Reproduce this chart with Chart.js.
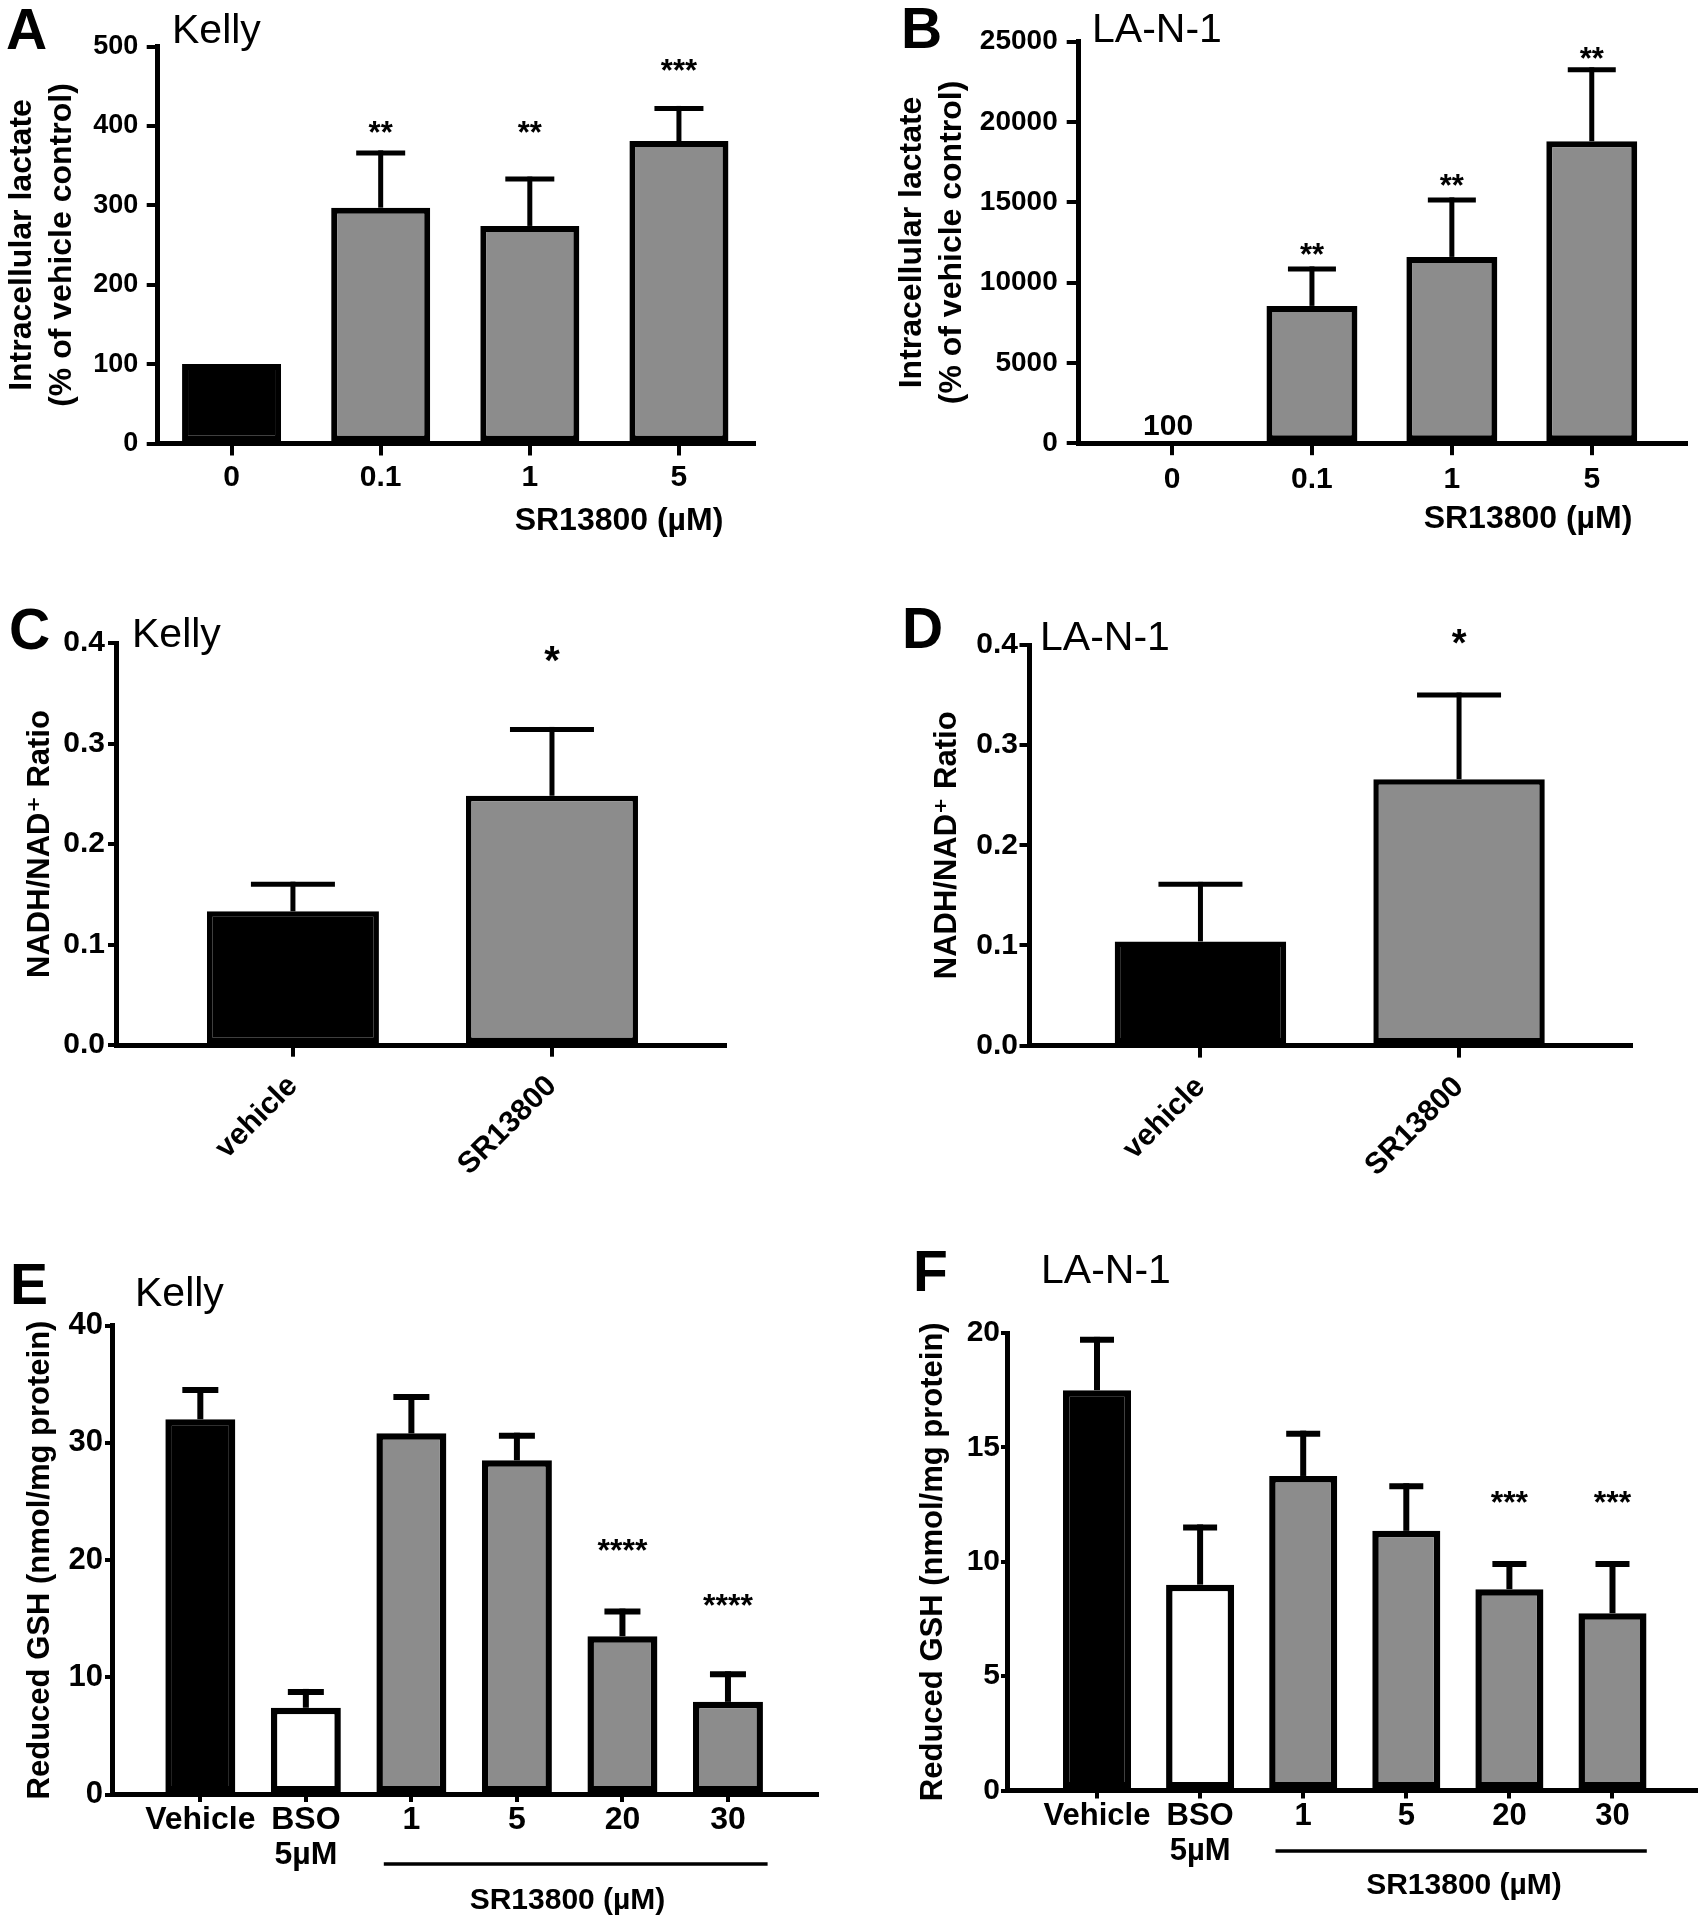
<!DOCTYPE html>
<html><head><meta charset="utf-8">
<script src="https://cdn.jsdelivr.net/npm/chart.js@4.4.1/dist/chart.umd.min.js"></script>
<style>
html,body{margin:0;padding:0;background:#fff;}
body{width:1704px;height:1920px;position:relative;overflow:hidden;}
canvas{position:absolute;display:block;}
</style></head><body>
<canvas id="cA"></canvas><canvas id="cB"></canvas>
<canvas id="cC"></canvas><canvas id="cD"></canvas>
<canvas id="cE"></canvas><canvas id="cF"></canvas>
<script>
// ---------------- DATA ----------------
const catsLactate = ['0', '0.1', '1', '5'];
const lactateKelly = [100, 297, 274, 381];
const lactateKellyErr = [0, 69, 59, 41];
const lactateKellySig = ['', '**', '**', '***'];
const lactateLAN1 = [100, 8550, 11600, 18800];
const lactateLAN1Err = [0, 2300, 3550, 4450];
const lactateLAN1Sig = ['', '**', '**', '**'];

const catsNad = ['vehicle', 'SR13800'];
const nadKelly = [0.133, 0.248];
const nadKellyErr = [0.027, 0.066];
const nadKellySig = ['', '*'];
const nadLAN1 = [0.104, 0.266];
const nadLAN1Err = [0.057, 0.084];
const nadLAN1Sig = ['', '*'];

const catsGsh = ['Vehicle', ['BSO', '5\u00B5M'], '1', '5', '20', '30'];
const gshKelly = [32.0, 7.4, 30.8, 28.5, 13.5, 7.9];
const gshKellyErr = [2.5, 1.35, 3.1, 2.1, 2.1, 2.35];
const gshKellySig = ['', '', '', '', '****', '****'];
const gshLAN1 = [17.5, 9.0, 13.75, 11.35, 8.8, 7.75];
const gshLAN1Err = [2.2, 2.5, 1.85, 1.95, 1.1, 2.15];
const gshLAN1Sig = ['', '', '', '', '***', '***'];

const yTicksLactKelly = [0, 100, 200, 300, 400, 500];
const yTicksLactLAN1 = [0, 5000, 10000, 15000, 20000, 25000];
const yTicksNad = [0, 0.1, 0.2, 0.3, 0.4];
const yTicksGshKelly = [0, 10, 20, 30, 40];
const yTicksGshLAN1 = [0, 5, 10, 15, 20];

// ---------------- STYLE / LAYOUT ----------------
const FAM = "'Liberation Sans', Arial, Helvetica, 'DejaVu Sans', sans-serif";
const GRAY = '#8c8c8c';
const fmtInt = v => String(v);
const fmt1 = v => v.toFixed(1);
const SR = 'SR13800 (\u00B5M)';
const LET = 'bold 57px';
const NAME = '41px';

const panels = [
  { id: 'cA', L: 0, T: 0, W: 852, H: 560, area: [157, 46.5, 753.5, 443.5],
    cats: catsLactate, vals: lactateKelly, errs: lactateKellyErr, sig: lactateKellySig, sigLevel: [null, 400, 400, 478],
    yMax: 500, yTicks: yTicksLactKelly, yFmt: fmtInt, xMin: -0.5, xMax: 3.5,
    fills: ['#000', GRAY, GRAY, GRAY], bw: 6, barPct: 0.664,
    yTick: { size: 27, tl: 10.3, pad: 8.4 }, xTick: { size: 30, tl: 12, pad: 4, rot: 0, lh: 1.2 },
    yTitle: { text: ['Intracellular lactate', '(% of vehicle control)'], size: 32, lh: '40px', pad: 2 },
    err: { lw: 5, cap: 49, ct: 5 }, starSize: 31,
    texts: [ { s: 'A', x: 6, y: 49, f: LET }, { s: 'Kelly', x: 172, y: 43, f: NAME },
             { s: SR, x: 619, y: 530, f: 'bold 32px', a: 'center' } ],
    lines: [] },
  { id: 'cB', L: 852, T: 0, W: 852, H: 560, area: [1078.3, 41.7, 1685.5, 443.2],
    cats: catsLactate, vals: lactateLAN1, errs: lactateLAN1Err, sig: lactateLAN1Sig, sigLevel: [null, 12200, 16450, 24400],
    yMax: 25000, yTicks: yTicksLactLAN1, yFmt: fmtInt, xMin: -0.67, xMax: 3.67,
    fills: ['#000', GRAY, GRAY, GRAY], bw: 6, barPct: 0.65,
    yTick: { size: 28, tl: 11.6, pad: 9 }, xTick: { size: 30, tl: 12, pad: 7, rot: 0, lh: 1.2 },
    yTitle: { text: ['Intracellular lactate', '(% of vehicle control)'], size: 32, lh: '40px', pad: 40.5 },
    err: { lw: 5, cap: 48, ct: 5 }, starSize: 31,
    valueLabel: { i: 0, dy: -7, f: 'bold 30px' },
    texts: [ { s: 'B', x: 901, y: 48, f: LET }, { s: 'LA-N-1', x: 1092, y: 42, f: NAME },
             { s: SR, x: 1528, y: 528, f: 'bold 32px', a: 'center' } ],
    lines: [] },
  { id: 'cC', L: 0, T: 560, W: 852, H: 680, area: [116, 643, 724.5, 1045],
    cats: catsNad, vals: nadKelly, errs: nadKellyErr, sig: nadKellySig, sigLevel: [null, 0.391],
    yMax: 0.4, yTicks: yTicksNad, yFmt: fmt1, xMin: -0.683, xMax: 1.666,
    fills: ['#000', GRAY], bw: 5.5, barPct: 0.664,
    yTick: { size: 30, tl: 8, pad: 3 }, xTick: { size: 30, tl: 11.7, pad: 12, rot: 45, lh: 1.2 },
    yTitle: { text: 'NADH/NAD\u207A Ratio', size: 31, lh: 1.2, pad: 21.5 },
    err: { lw: 5, cap: 84, ct: 5 }, starSize: 40,
    texts: [ { s: 'C', x: 9, y: 649, f: LET }, { s: 'Kelly', x: 132, y: 647, f: NAME } ],
    lines: [] },
  { id: 'cD', L: 852, T: 560, W: 852, H: 680, area: [1029, 645, 1630.5, 1045.6],
    cats: catsNad, vals: nadLAN1, errs: nadLAN1Err, sig: nadLAN1Sig, sigLevel: [null, 0.4107],
    yMax: 0.4, yTicks: yTicksNad, yFmt: fmt1, xMin: -0.663, xMax: 1.663,
    fills: ['#000', GRAY], bw: 5.5, barPct: 0.663,
    yTick: { size: 30, tl: 9.5, pad: 1.5 }, xTick: { size: 30, tl: 12, pad: 12, rot: 45, lh: 1.2 },
    yTitle: { text: 'NADH/NAD\u207A Ratio', size: 31, lh: 1.2, pad: 76.5 },
    err: { lw: 5, cap: 84, ct: 5 }, starSize: 38,
    texts: [ { s: 'D', x: 902, y: 648, f: LET }, { s: 'LA-N-1', x: 1040, y: 650, f: NAME } ],
    lines: [] },
  { id: 'cE', L: 0, T: 1240, W: 852, H: 680, area: [112, 1325.5, 816.5, 1794.5],
    cats: catsGsh, vals: gshKelly, errs: gshKellyErr, sig: gshKellySig, sigLevel: [null, null, null, null, 21.45, 16.76],
    yMax: 40, yTicks: yTicksGshKelly, yFmt: fmtInt, xMin: -0.837, xMax: 5.839,
    fills: ['#000', '#fff', GRAY, GRAY, GRAY, GRAY], bw: 6.5, barPct: 0.663,
    yTick: { size: 31, tl: 7, pad: 2 }, xTick: { size: 32, tl: 7.5, pad: 1, rot: 0, lh: '35px' },
    yTitle: { text: 'Reduced GSH (nmol/mg protein)', size: 31, lh: 1.2, pad: 22 },
    err: { lw: 6, cap: 36, ct: 6 }, starSize: 32,
    texts: [ { s: 'E', x: 10, y: 1304, f: LET }, { s: 'Kelly', x: 135, y: 1306, f: NAME },
             { s: SR, x: 567.5, y: 1909, f: 'bold 30px', a: 'center' } ],
    lines: [ [383.8, 1864, 767.6, 1864, 3.5] ] },
  { id: 'cF', L: 852, T: 1240, W: 852, H: 680, area: [1007, 1333, 1696, 1790.5],
    cats: catsGsh, vals: gshLAN1, errs: gshLAN1Err, sig: gshLAN1Sig, sigLevel: [null, null, null, null, 12.92, 12.92],
    yMax: 20, yTicks: yTicksGshLAN1, yFmt: fmtInt, xMin: -0.873, xMax: 5.81,
    fills: ['#000', '#fff', GRAY, GRAY, GRAY, GRAY], bw: 6.5, barPct: 0.66,
    yTick: { size: 30, tl: 6, pad: 1 }, xTick: { size: 31, tl: 8, pad: 0, rot: 0, lh: '35px' },
    yTitle: { text: 'Reduced GSH (nmol/mg protein)', size: 31, lh: 1.2, pad: 63 },
    err: { lw: 6, cap: 34, ct: 6 }, starSize: 32,
    texts: [ { s: 'F', x: 913, y: 1291, f: LET }, { s: 'LA-N-1', x: 1041, y: 1283, f: NAME },
             { s: SR, x: 1464, y: 1894, f: 'bold 30px', a: 'center' } ],
    lines: [ [1275.5, 1851, 1646.8, 1851, 3.5] ] }
];

function fnt(size, weight, lh) { return { family: FAM, size: size, weight: weight, lineHeight: lh || 1.2 }; }

function makeOverlay(p) {
  return {
    id: 'overlay_' + p.id,
    afterDatasetsDraw(chart) {
      const ctx = chart.ctx, xs = chart.scales.x, ys = chart.scales.y;
      ctx.save();
      ctx.strokeStyle = '#000'; ctx.fillStyle = '#000'; ctx.lineCap = 'butt';
      // error bars (upper, SEM)
      p.vals.forEach((v, i) => {
        const e = p.errs[i];
        if (!e) return;
        const x = xs.getPixelForValue(i);
        const y0 = ys.getPixelForValue(v);
        const y1 = ys.getPixelForValue(v + e);
        ctx.lineWidth = p.err.lw;
        ctx.beginPath(); ctx.moveTo(x, y0); ctx.lineTo(x, y1 - p.err.ct / 2); ctx.stroke();
        ctx.lineWidth = p.err.ct;
        ctx.beginPath(); ctx.moveTo(x - p.err.cap / 2, y1); ctx.lineTo(x + p.err.cap / 2, y1); ctx.stroke();
      });
      // significance stars
      ctx.font = 'bold ' + p.starSize + 'px ' + FAM;
      ctx.textAlign = 'center'; ctx.textBaseline = 'alphabetic';
      p.sig.forEach((s, i) => {
        if (!s) return;
        ctx.fillText(s, xs.getPixelForValue(i), ys.getPixelForValue(p.sigLevel[i]) + 0.56 * p.starSize);
      });
      // value label (bar too small to see)
      if (p.valueLabel) {
        const i = p.valueLabel.i;
        ctx.font = p.valueLabel.f + ' ' + FAM;
        ctx.fillText(String(p.vals[i]), xs.getPixelForValue(i) - 4, ys.getPixelForValue(p.vals[i]) + p.valueLabel.dy);
      }
      // static texts
      p.texts.forEach(t => {
        ctx.font = t.f + ' ' + FAM;
        ctx.textAlign = t.a || 'left';
        ctx.fillText(t.s, t.x - p.L, t.y - p.T);
      });
      p.lines.forEach(l => {
        ctx.lineWidth = l[4];
        ctx.beginPath(); ctx.moveTo(l[0] - p.L, l[1] - p.T); ctx.lineTo(l[2] - p.L, l[3] - p.T); ctx.stroke();
      });
      ctx.restore();
    }
  };
}

panels.forEach(p => {
  const cv = document.getElementById(p.id);
  cv.width = p.W; cv.height = p.H;
  cv.style.left = p.L + 'px'; cv.style.top = p.T + 'px';
  cv.style.width = p.W + 'px'; cv.style.height = p.H + 'px';
  new Chart(cv, {
    type: 'bar',
    data: {
      datasets: [{
        data: p.vals.map((v, i) => ({ x: i, y: v })),
        backgroundColor: p.fills, borderColor: '#000', borderWidth: p.bw,
        borderSkipped: false, barPercentage: p.barPct, categoryPercentage: 1
      }]
    },
    options: {
      responsive: false, maintainAspectRatio: false, animation: false, devicePixelRatio: 1, events: [],
      layout: { padding: { left: 0, top: p.area[1] - p.T, right: p.L + p.W - p.area[2], bottom: 0 } },
      plugins: { legend: { display: false }, tooltip: { enabled: false }, title: { display: false } },
      scales: {
        x: {
          type: 'linear', min: p.xMin, max: p.xMax, offset: false,
          grid: { display: true, offset: false, drawOnChartArea: false, drawTicks: true, tickLength: p.xTick.tl, lineWidth: 4, color: '#000', tickColor: '#000' },
          border: { display: true, color: '#000', width: 5 },
          ticks: { font: fnt(p.xTick.size, 'bold', p.xTick.lh), color: '#000', padding: p.xTick.pad, autoSkip: false,
                   minRotation: p.xTick.rot, maxRotation: p.xTick.rot, callback: (v, i) => p.cats[i] },
          afterBuildTicks: s => { s.ticks = p.cats.map((c, i) => ({ value: i })); },
          afterFit: s => { s.height = p.T + p.H - p.area[3]; }
        },
        y: {
          type: 'linear', min: 0, max: p.yMax,
          grid: { display: true, drawOnChartArea: false, drawTicks: true, tickLength: p.yTick.tl, lineWidth: 4, color: '#000', tickColor: '#000' },
          border: { display: true, color: '#000', width: 5 },
          ticks: { font: fnt(p.yTick.size, 'bold'), color: '#000', padding: p.yTick.pad, callback: v => p.yFmt(v) },
          afterBuildTicks: s => { s.ticks = p.yTicks.map(v => ({ value: v })); },
          afterFit: s => { s.width = p.area[0] - p.L; },
          title: { display: true, text: p.yTitle.text, color: '#000',
                   font: fnt(p.yTitle.size, 'bold', p.yTitle.lh), padding: { top: p.yTitle.pad, bottom: 0 } }
        }
      }
    },
    plugins: [makeOverlay(p)]
  });
});
</script>
</body></html>
